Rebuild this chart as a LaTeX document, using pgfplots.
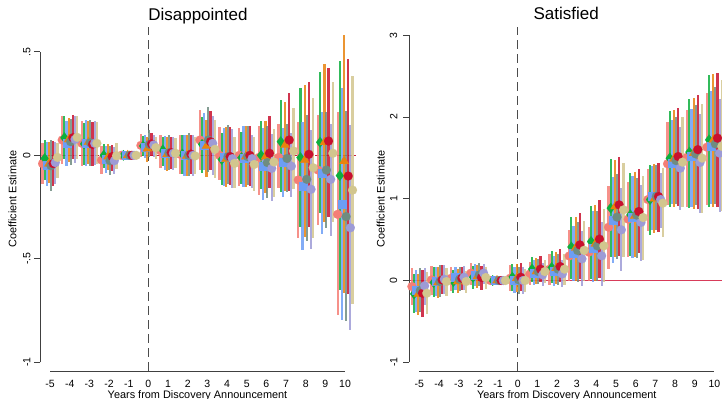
\documentclass[border=0pt]{standalone}
\usepackage{pgfplots}
\pgfplotsset{compat=1.18}
\usepackage{pgfplotstable}
\usepackage{fontspec}
\setmainfont{Liberation Sans}

% series colours
\definecolor{cS}{HTML}{F47E76}
\definecolor{cG}{HTML}{0DAF3E}
\definecolor{cB}{HTML}{6C9EF4}
\definecolor{cO}{HTML}{E8830E}
\definecolor{cK}{HTML}{6F8C80}
\definecolor{cC}{HTML}{C8102E}
\definecolor{cL}{HTML}{9D9BD6}
\definecolor{cT}{HTML}{D2C68E}
\definecolor{axgray}{HTML}{404040}
\definecolor{zeroL}{HTML}{C8203C}
\definecolor{zeroR}{HTML}{D83C5A}

% ---------- Disappointed: estimate b with 95% interval [lo,hi] ----------
\pgfplotstableread{
yr b lo hi
-5 -0.040 -0.140 0.060
-4 0.074 -0.040 0.190
-3 0.058 -0.050 0.165
-2 -0.023 -0.090 0.045
-1 0 -0.012 0.012
0 0.048 -0.010 0.105
1 0.022 -0.060 0.100
2 0.005 -0.090 0.100
3 0.074 -0.071 0.219
4 0.000 -0.119 0.138
5 0.000 -0.150 0.130
6 -0.010 -0.190 0.140
7 -0.010 -0.160 0.150
8 -0.119 -0.400 0.162
9 -0.071 -0.337 0.195
10 -0.285 -0.770 0.209
}\lS
\pgfplotstableread{
yr b lo hi
-5 -0.015 -0.120 0.075
-4 0.085 -0.020 0.190
-3 0.055 -0.045 0.155
-2 0.000 -0.060 0.055
-1 0 -0.012 0.012
0 0.045 -0.005 0.095
1 0.026 -0.050 0.090
2 0.006 -0.090 0.100
3 0.053 -0.087 0.187
4 -0.020 -0.143 0.106
5 -0.011 -0.140 0.114
6 0.000 -0.165 0.165
7 0.066 -0.176 0.267
8 -0.011 -0.345 0.324
9 0.063 -0.279 0.404
10 -0.098 -0.650 0.456
}\lG
\pgfplotstableread{
yr b lo hi
-5 -0.047 -0.150 0.065
-4 0.058 -0.050 0.165
-3 0.061 -0.050 0.170
-2 -0.020 -0.085 0.045
-1 0 -0.012 0.012
0 0.042 -0.015 0.100
1 0.013 -0.070 0.095
2 0.000 -0.100 0.100
3 0.050 -0.071 0.206
4 -0.006 -0.150 0.130
5 -0.011 -0.155 0.140
6 -0.050 -0.215 0.130
7 -0.034 -0.200 0.130
8 -0.147 -0.457 0.162
9 -0.087 -0.380 0.209
10 -0.237 -0.795 0.324
}\lB
\pgfplotstableread{
yr b lo hi
-5 -0.040 -0.135 0.065
-4 0.077 -0.030 0.180
-3 0.064 -0.040 0.165
-2 -0.006 -0.070 0.055
-1 0 -0.012 0.012
0 0.032 -0.030 0.090
1 0.005 -0.075 0.090
2 -0.003 -0.100 0.100
3 0.045 -0.103 0.170
4 -0.018 -0.151 0.138
5 -0.006 -0.155 0.140
6 -0.007 -0.180 0.165
7 0.050 -0.170 0.260
8 -0.023 -0.393 0.340
9 0.063 -0.320 0.440
10 -0.028 -0.665 0.581
}\lO
\pgfplotstableread{
yr b lo hi
-5 -0.050 -0.170 0.075
-4 0.066 -0.045 0.175
-3 0.061 -0.050 0.170
-2 -0.026 -0.095 0.045
-1 0 -0.012 0.012
0 0.053 -0.010 0.120
1 0.013 -0.070 0.100
2 0.000 -0.100 0.110
3 0.074 -0.080 0.235
4 -0.006 -0.140 0.146
5 -0.006 -0.145 0.140
6 -0.035 -0.205 0.140
7 -0.015 -0.176 0.150
8 -0.116 -0.414 0.195
9 -0.071 -0.351 0.209
10 -0.296 -0.800 0.214
}\lK
\pgfplotstableread{
yr b lo hi
-5 -0.040 -0.150 0.070
-4 0.085 -0.020 0.195
-3 0.053 -0.050 0.160
-2 -0.006 -0.075 0.050
-1 0 -0.012 0.012
0 0.055 -0.005 0.110
1 0.013 -0.065 0.090
2 0.006 -0.090 0.100
3 0.066 -0.071 0.215
4 -0.006 -0.143 0.138
5 0.000 -0.150 0.140
6 0.010 -0.160 0.190
7 0.074 -0.170 0.300
8 0.005 -0.345 0.353
9 0.069 -0.296 0.423
10 -0.100 -0.670 0.465
}\lC
\pgfplotstableread{
yr b lo hi
-5 -0.035 -0.140 0.065
-4 0.077 -0.035 0.190
-3 0.058 -0.045 0.165
-2 -0.026 -0.090 0.040
-1 0 -0.012 0.012
0 0.050 -0.010 0.100
1 0.010 -0.070 0.090
2 0.000 -0.100 0.100
3 0.058 -0.095 0.190
4 -0.016 -0.160 0.125
5 -0.016 -0.160 0.100
6 -0.063 -0.220 0.105
7 -0.052 -0.200 0.110
8 -0.164 -0.453 0.122
9 -0.116 -0.388 0.150
10 -0.350 -0.844 0.146
}\lL
\pgfplotstableread{
yr b lo hi
-5 -0.010 -0.110 0.060
-4 0.087 -0.020 0.190
-3 0.058 -0.040 0.160
-2 -0.002 -0.065 0.060
-1 0 -0.012 0.012
0 0.037 -0.020 0.090
1 0.010 -0.060 0.085
2 -0.003 -0.090 0.090
3 0.029 -0.110 0.170
4 -0.039 -0.160 0.090
5 -0.044 -0.170 0.090
6 -0.032 -0.200 0.125
7 0.021 -0.165 0.228
8 -0.060 -0.400 0.275
9 0.010 -0.320 0.353
10 -0.168 -0.720 0.385
}\lT

% ---------- Satisfied ----------
\pgfplotstableread{
yr b lo hi
-5 -0.073 -0.300 0.150
-4 0.008 -0.180 0.180
-3 0.028 -0.130 0.170
-2 0.090 -0.050 0.220
-1 0 -0.030 0.030
0 0.028 -0.130 0.190
1 0.080 -0.060 0.230
2 0.139 -0.050 0.330
3 0.300 0.000 0.620
4 0.347 0.000 0.660
5 0.652 0.140 1.160
6 0.750 0.290 1.210
7 0.990 0.600 1.360
8 1.427 0.925 1.944
9 1.508 0.905 2.087
10 1.630 0.925 2.290
}\rS
\pgfplotstableread{
yr b lo hi
-5 -0.163 -0.400 0.080
-4 -0.024 -0.200 0.160
-3 -0.012 -0.150 0.130
-2 0.040 -0.100 0.180
-1 0 -0.030 0.030
0 0.040 -0.130 0.200
1 0.139 -0.020 0.290
2 0.159 -0.030 0.360
3 0.410 0.020 0.780
4 0.477 0.020 0.913
5 0.885 0.290 1.480
6 0.803 0.300 1.310
7 0.990 0.560 1.410
8 1.496 0.905 2.075
9 1.570 0.885 2.217
10 1.720 0.905 2.515
}\rG
\pgfplotstableread{
yr b lo hi
-5 -0.122 -0.380 0.130
-4 -0.012 -0.190 0.170
-3 0.037 -0.120 0.170
-2 0.069 -0.070 0.200
-1 0 -0.030 0.030
0 0.008 -0.150 0.170
1 0.090 -0.060 0.250
2 0.110 -0.070 0.300
3 0.335 -0.010 0.670
4 0.396 -0.020 0.844
5 0.742 0.220 1.270
6 0.780 0.280 1.280
7 1.027 0.620 1.400
8 1.435 0.930 1.965
9 1.516 0.900 2.100
10 1.647 0.940 2.320
}\rB
\pgfplotstableread{
yr b lo hi
-5 -0.163 -0.420 0.080
-4 -0.024 -0.210 0.170
-3 -0.012 -0.150 0.140
-2 0.049 -0.090 0.190
-1 0 -0.030 0.030
0 0.028 -0.140 0.200
1 0.110 -0.040 0.270
2 0.150 -0.040 0.350
3 0.400 0.000 0.780
4 0.449 0.000 0.920
5 0.905 0.290 1.475
6 0.790 0.290 1.330
7 1.000 0.580 1.420
8 1.490 0.900 2.086
9 1.557 0.880 2.230
10 1.720 0.900 2.530
}\rO
\pgfplotstableread{
yr b lo hi
-5 -0.122 -0.380 0.150
-4 -0.012 -0.200 0.190
-3 0.016 -0.130 0.160
-2 0.069 -0.070 0.210
-1 0 -0.030 0.030
0 0.008 -0.160 0.170
1 0.110 -0.040 0.260
2 0.139 -0.050 0.330
3 0.367 -0.020 0.710
4 0.424 -0.010 0.850
5 0.775 0.260 1.300
6 0.800 0.280 1.250
7 1.030 0.620 1.410
8 1.467 0.940 2.005
9 1.548 0.920 2.148
10 1.671 0.930 2.370
}\rK
\pgfplotstableread{
yr b lo hi
-5 -0.155 -0.450 0.130
-4 0.008 -0.170 0.190
-3 0.028 -0.120 0.170
-2 0.037 -0.110 0.180
-1 0 -0.030 0.030
0 0.040 -0.130 0.210
1 0.139 -0.020 0.300
2 0.171 -0.020 0.380
3 0.436 0.020 0.830
4 0.506 0.030 0.986
5 0.925 0.300 1.516
6 0.844 0.340 1.360
7 1.027 0.590 1.435
8 1.516 0.910 2.107
9 1.600 0.870 2.270
10 1.741 0.900 2.543
}\rC
\pgfplotstableread{
yr b lo hi
-5 -0.065 -0.300 0.150
-4 0.016 -0.170 0.190
-3 0.040 -0.110 0.180
-2 0.090 -0.040 0.200
-1 0 -0.030 0.030
0 0.000 -0.160 0.160
1 0.069 -0.070 0.210
2 0.080 -0.080 0.250
3 0.265 -0.065 0.600
4 0.302 -0.070 0.720
5 0.620 0.120 1.130
6 0.710 0.240 1.170
7 0.990 0.640 1.320
8 1.374 0.864 1.875
9 1.443 0.830 2.040
10 1.557 0.840 2.217
}\rL
\pgfplotstableread{
yr b lo hi
-5 -0.155 -0.410 0.100
-4 -0.012 -0.190 0.150
-3 -0.012 -0.150 0.120
-2 0.037 -0.100 0.170
-1 0 -0.030 0.030
0 0.000 -0.140 0.140
1 0.110 -0.030 0.250
2 0.139 -0.050 0.320
3 0.370 -0.010 0.730
4 0.424 -0.020 0.880
5 0.864 0.290 1.440
6 0.770 0.250 1.280
7 0.946 0.530 1.380
8 1.447 0.900 2.000
9 1.496 0.820 2.160
10 1.640 0.850 2.450
}\rT

% confidence interval spikes: colour, x offset, table
\newcommand\ciplot[3]{%
  \addplot[draw=none, mark=none, forget plot,
    error bars/.cd, y dir=both, y explicit, error mark=none,
    error bar style={draw=#1, solid, line width=2.2bp, opacity=0.85}]
    table[x expr=\thisrow{yr}+#2, y=b,
          y error plus expr=\thisrow{hi}-\thisrow{b},
          y error minus expr=\thisrow{b}-\thisrow{lo}] {#3};}
% point estimates: colour, x offset, marker style, table
\newcommand\mkplot[4]{%
  \addplot[only marks, forget plot, #3, mark options={solid, fill=#1, draw=#1, line width=0.1bp}]
    table[x expr=\thisrow{yr}+#2, y=b] {#4};}

\pgfplotsset{
  mkS/.style={mark=*, mark size=4.5bp},
  mkG/.style={mark=diamond*, mark size=5.3bp},
  mkB/.style={mark=square*, mark size=4.0bp},
  mkO/.style={mark=triangle*, mark size=5.3bp},
  mkK/.style={mark=*, mark size=4.5bp},
  mkC/.style={mark=*, mark size=4.5bp},
  mkL/.style={mark=*, mark size=4.5bp},
  mkT/.style={mark=*, mark size=4.5bp},
  coefpanel/.style={
    scale only axis, clip=false,
    axis line style={draw=none},
    xmin=-5.51,
    xtick={-5,-4,-3,-2,-1,0,1,2,3,4,5,6,7,8,9,10},
    xticklabels={-5,-4,-3,-2,-1,0,1,2,3,4,5,6,7,8,9,10},
    xtick pos=bottom, ytick pos=left,
    tick align=outside, major tick length=6bp,
    xtick style={draw=none},
    ytick style={draw=axgray, line width=0.8bp},
    tick label style={font=\fontsize{10.5bp}{12bp}\selectfont, text=black},
    yticklabel style={rotate=90, anchor=south},
    xticklabel style={anchor=base, yshift=-10bp},
    label style={font=\fontsize{10.9bp}{12bp}\selectfont},
    title style={font=\fontsize{17bp}{20bp}\selectfont, at={(0.5,1)}, anchor=base, yshift=1bp},
    xlabel={Years from Discovery Announcement},
    ylabel={Coefficient Estimate},
  },
}

% all spikes first, then all markers
\newcommand\allseries[8]{%
  \ciplot{cS}{-0.38}{#1}
  \ciplot{cG}{-0.27}{#2}
  \ciplot{cB}{-0.16}{#3}
  \ciplot{cO}{-0.05}{#4}
  \ciplot{cK}{0.05}{#5}
  \ciplot{cC}{0.16}{#6}
  \ciplot{cL}{0.27}{#7}
  \ciplot{cT}{0.38}{#8}
  \mkplot{cS}{-0.38}{mkS}{#1}
  \mkplot{cG}{-0.27}{mkG}{#2}
  \mkplot{cB}{-0.16}{mkB}{#3}
  \mkplot{cO}{-0.05}{mkO}{#4}
  \mkplot{cK}{0.05}{mkK}{#5}
  \mkplot{cC}{0.16}{mkC}{#6}
  \mkplot{cL}{0.27}{mkL}{#7}
  \mkplot{cT}{0.38}{mkT}{#8}}

\begin{document}
\begin{tikzpicture}
\useasboundingbox (0,0) rectangle (722bp,399bp);

% ---------------- left panel ----------------
\begin{axis}[coefpanel,
  at={(40bp,28bp)}, anchor=south west,
  width=315.9bp, height=344bp,
  xmax=10.55, ymin=-1.042, ymax=0.62,
  ytick={-1,-0.5,0,0.5}, yticklabels={-1,-.5,0,.5},
  title={Disappointed},
  xlabel style={at={(axis description cs:0.4986,-0.0785)}, anchor=base},
  ylabel style={at={(axis description cs:-0.087,0.5)}, anchor=center},
]
\addplot[zeroL, line width=0.9bp, dash pattern=on 4bp off 1.5bp, forget plot]
  coordinates {(-5.51,0) (10.55,0)};
\addplot[black!70, line width=1.2bp, dash pattern=on 9bp off 5bp, forget plot]
  coordinates {(0,-1.042) (0,0.62)};
\allseries{\lS}{\lG}{\lB}{\lO}{\lK}{\lC}{\lL}{\lT}
\draw[axgray, line width=0.9bp] (axis cs:-5.51,-1) -- (axis cs:-5.51,0.5);
\draw[axgray, line width=0.9bp] (axis cs:-5,-1.042) -- (axis cs:10,-1.042);
\end{axis}

% ---------------- right panel ----------------
\begin{axis}[coefpanel,
  at={(409.3bp,28bp)}, anchor=south west,
  width=313.9bp, height=344.05bp,
  xmax=10.45, ymin=-1.106, ymax=3.10,
  ytick={-1,0,1,2,3}, yticklabels={-1,0,1,2,3},
  yticklabel shift=2.5bp,
  title={Satisfied},
  xlabel style={at={(axis description cs:0.5017,-0.0785)}, anchor=base},
  ylabel style={at={(axis description cs:-0.0912,0.5)}, anchor=center},
]
\addplot[zeroR, line width=1.4bp, forget plot]
  coordinates {(-5.51,0) (10.45,0)};
\addplot[black!70, line width=1.2bp, dash pattern=on 9bp off 5bp, forget plot]
  coordinates {(0,-1.106) (0,3.10)};
\allseries{\rS}{\rG}{\rB}{\rO}{\rK}{\rC}{\rL}{\rT}
\draw[axgray, line width=0.9bp] (axis cs:-5.51,-1) -- (axis cs:-5.51,3);
\draw[axgray, line width=0.9bp] (axis cs:-5,-1.106) -- (axis cs:10,-1.106);
\end{axis}
\end{tikzpicture}
\end{document}
